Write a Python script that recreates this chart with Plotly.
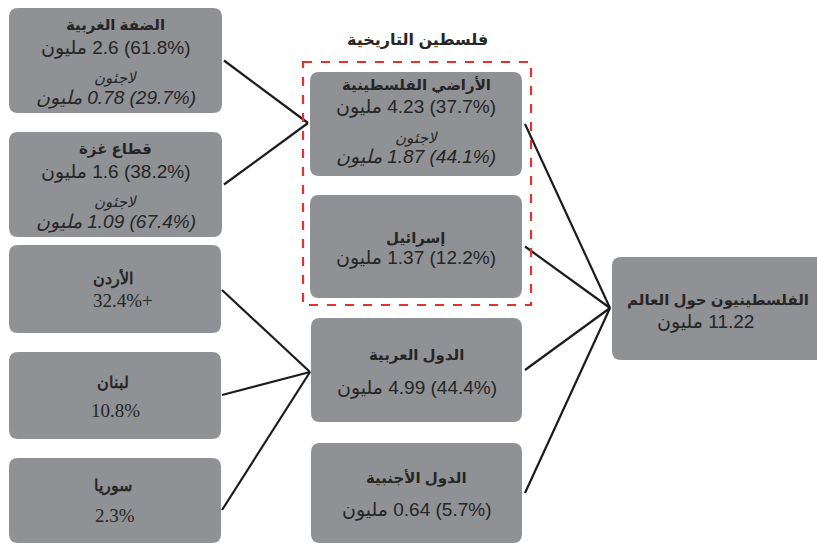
import plotly.graph_objects as go

# ---------------- DATA ----------------
unit = "مليون"
refugee_word = "لاجئون"
historic_title = "فلسطين التاريخية"

world_label = "الفلسطينيون حول العالم"
world_total = 11.22

mid_labels = ["الأراضي الفلسطينية", "إسرائيل", "الدول العربية", "الدول الأجنبية"]
mid_pop = [4.23, 1.37, 4.99, 0.64]
mid_pct = [37.7, 12.2, 44.4, 5.7]
mid_refugees = [1.87, None, None, None]
mid_refugees_pct = [44.1, None, None, None]

territory_labels = ["الضفة الغربية", "قطاع غزة"]
territory_pop = [2.6, 1.6]
territory_pct = [61.8, 38.2]
territory_refugees = [0.78, 1.09]
territory_refugees_pct = [29.7, 67.4]

host_labels = ["الأردن", "لبنان", "سوريا"]
host_pct = [32.4, 10.8, 2.3]
host_suffix = ["+", "", ""]

# ---------------- LAYOUT (pixel geometry) ----------------
W, H = 817, 544
BOX_FILL = "#909195"
TXT = "#262626"
SANS = "Liberation Sans, Arial, DejaVu Sans, sans-serif"
SERIF = "Liberation Serif, Times New Roman, DejaVu Serif, serif"
LRM = "\u200e"

geom = {
    "territory": [(9, 8, 222, 113), (9, 132, 222, 237)],
    "host": [(9, 245, 221, 333), (9, 352, 221, 439), (9, 458, 221, 543)],
    "mid": [(310, 72, 522, 176), (310, 195, 522, 298), (311, 318, 522, 422), (311, 443, 522, 543)],
    "world": (612, 257, 840, 360),
}
host_anchor_y = [290, 395, 510]
host_text_y = [(278, 300), (382, 410), (486, 515)]
mid_text_y = [None, (238, 258), (355, 388), (478, 510)]
joins = {"mid0": (308, 123), "mid2": (310, 372), "world": (610, 308)}
dash_rect = (303, 62, 531, 305)


def rounded(x0, y0, x1, y1, r=9):
    return (f"M {x0+r},{y0} L {x1-r},{y0} Q {x1},{y0} {x1},{y0+r} "
            f"L {x1},{y1-r} Q {x1},{y1} {x1-r},{y1} L {x0+r},{y1} "
            f"Q {x0},{y1} {x0},{y1-r} L {x0},{y0+r} Q {x0},{y0} {x0+r},{y0} Z")


def num(v):
    return f"{v:g}"


def pop_line(v, p, sep=" "):
    return f"{LRM}{unit}{LRM} {num(v)}{sep}({num(p)}%)"


shapes = []
annots = []


def box(b):
    shapes.append(dict(type="path", path=rounded(*b), fillcolor=BOX_FILL,
                       line=dict(width=0), layer="below"))


def txt(x, y, s, size, family=SANS, bold=False, italic=False):
    if bold:
        s = f"<b>{s}</b>"
    if italic:
        s = f"<i>{s}</i>"
    annots.append(dict(x=x, y=y, xref="x", yref="y", text=s, showarrow=False,
                       xanchor="center", yanchor="middle",
                       font=dict(family=family, size=size, color=TXT)))


def line(p0, p1):
    shapes.append(dict(type="line", x0=p0[0], y0=p0[1], x1=p1[0], y1=p1[1],
                       line=dict(color="#1c1c1c", width=2.2)))


# connector lines
for b in geom["territory"]:
    line((b[2] + 2, (b[1] + b[3]) / 2), joins["mid0"])
for b, ay in zip(geom["host"], host_anchor_y):
    line((b[2] + 1, ay), joins["mid2"])
for b in geom["mid"]:
    line((b[2] + 3, (b[1] + b[3]) / 2), joins["world"])

# territory boxes
for b, lab, v, p, rv, rp in zip(geom["territory"], territory_labels, territory_pop,
                                territory_pct, territory_refugees, territory_refugees_pct):
    box(b)
    cx = (b[0] + b[2]) / 2
    txt(cx, b[1] + 17, lab, 15, bold=True)
    txt(cx, b[1] + 40, pop_line(v, p), 19)
    txt(cx, b[1] + 70, refugee_word, 15, italic=True)
    txt(cx, b[1] + 90, pop_line(rv, rp), 19, italic=True)

# host boxes
for b, lab, p, sfx, ty in zip(geom["host"], host_labels, host_pct, host_suffix, host_text_y):
    box(b)
    cx = (b[0] + b[2]) / 2
    txt(cx - 2, ty[0], lab, 16, family=SERIF, bold=True)
    txt(cx + (8 if sfx else 0), ty[1], f"{LRM}{num(p)}%{sfx}", 19, family=SERIF)

# middle boxes
for i, (b, lab, v, p) in enumerate(zip(geom["mid"], mid_labels, mid_pop, mid_pct)):
    box(b)
    cx = (b[0] + b[2]) / 2
    if mid_refugees[i] is not None:
        txt(cx, b[1] + 13, lab, 15, bold=True)
        txt(cx, b[1] + 35, pop_line(v, p), 19)
        txt(cx, b[1] + 66, refugee_word, 15, italic=True)
        txt(cx, b[1] + 85, pop_line(mid_refugees[i], mid_refugees_pct[i]), 19, italic=True)
    else:
        ty = mid_text_y[i]
        txt(cx, ty[0], lab, 15, bold=True)
        txt(cx, ty[1], pop_line(v, p), 19)

# world box
wb = geom["world"]
box(wb)
txt(718, 300, world_label, 15, bold=True)
txt(705, 322, f"{LRM}{unit}{LRM} {num(world_total)}", 19)

# historic Palestine frame and title
shapes.append(dict(type="rect", x0=dash_rect[0], y0=dash_rect[1], x1=dash_rect[2], y1=dash_rect[3],
                   line=dict(color="#e8312a", width=2.2, dash="dash"), fillcolor="rgba(0,0,0,0)"))
txt((dash_rect[0] + dash_rect[2]) / 2, 40, historic_title, 16, bold=True)

fig = go.Figure()
fig.update_layout(
    width=W, height=H, margin=dict(l=0, r=0, t=0, b=0),
    paper_bgcolor="white", plot_bgcolor="white",
    xaxis=dict(range=[0, W], visible=False, fixedrange=True),
    yaxis=dict(range=[H, 0], visible=False, fixedrange=True),
    shapes=shapes, annotations=annots, showlegend=False,
)
fig.write_html("out.html", config={"displayModeBar": False},
               post_script="document.body.style.margin='0';document.body.style.overflow='hidden';")
